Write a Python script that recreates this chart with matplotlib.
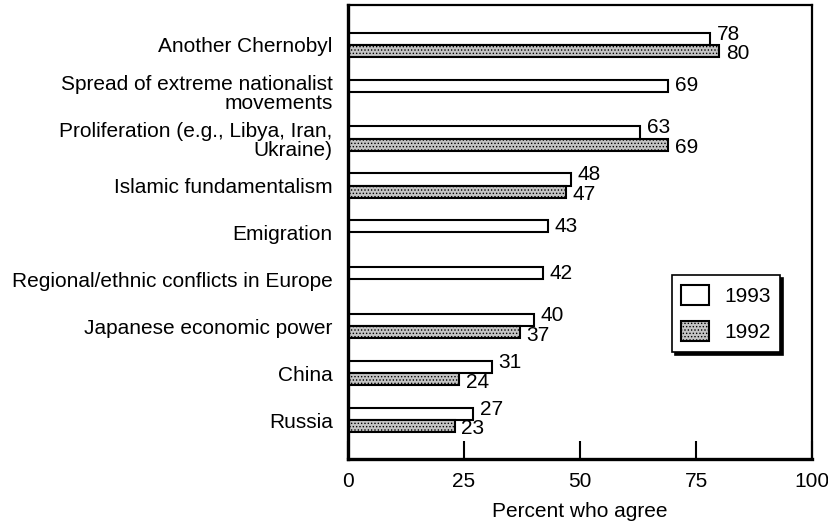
import numpy as np
import matplotlib
matplotlib.use('Agg')
import matplotlib.pyplot as plt

plt.rcParams['font.family'] = ['Liberation Sans', 'DejaVu Sans']
plt.rcParams['hatch.linewidth'] = 0.6

# Data
categories = [
    'Another Chernobyl',
    'Spread of extreme nationalist\nmovements',
    'Proliferation (e.g., Libya, Iran,\nUkraine)',
    'Islamic fundamentalism',
    'Emigration',
    'Regional/ethnic conflicts in Europe',
    'Japanese economic power',
    'China',
    'Russia',
]
values_1993 = [78, 69, 63, 48, 43, 42, 40, 31, 27]
values_1992 = [80, None, 69, 47, None, None, 37, 24, 23]
series_names = ['1993', '1992']

fs = 15
fig = plt.figure(figsize=(8.29, 5.25), dpi=100)
ax = fig.add_axes([0.4198, 0.1257, 0.5597, 0.8648])

y = np.arange(len(categories))
h = 0.26

b93 = ax.barh(y - h / 2, values_1993, height=h, color='white',
              edgecolor='black', linewidth=1.5, label=series_names[0])

y92 = [yy + h / 2 for yy, v in zip(y, values_1992) if v is not None]
v92 = [v for v in values_1992 if v is not None]
b92 = ax.barh(y92, v92, height=h, color='#c4c4c4', edgecolor='black',
              linewidth=1.5, hatch='.....', label=series_names[1])

# value labels
for yy, v, v2 in zip(y, values_1993, values_1992):
    dy = -0.1 if v2 is not None else 0
    ax.text(v + 1.4, yy - h / 2 + dy, str(v), va='center', ha='left', fontsize=fs)
for yy, v in zip(y92, v92):
    ax.text(v + 1.4, yy + 0.06, str(v), va='center', ha='left', fontsize=fs)

ax.set_xlim(0, 100)
ax.set_ylim(len(categories) - 1 + 0.83, -0.85)
ax.set_yticks(y)
ax.set_yticklabels(categories, fontsize=fs, linespacing=1.0)
ax.tick_params(axis='y', length=0, pad=11)
ax.set_xticks([0, 25, 50, 75, 100])
ax.set_xticklabels(['0', '25', '50', '75', '100'], fontsize=fs)
ax.tick_params(axis='x', direction='in', length=13, width=1.5, pad=9)
ax.set_xlabel('Percent who agree', fontsize=fs, labelpad=8)

for side in ['left', 'bottom']:
    ax.spines[side].set_linewidth(2.4)
for side in ['top', 'right']:
    ax.spines[side].set_linewidth(1.6)

leg = ax.legend(loc='upper left', bbox_to_anchor=(0.698, 0.405), fontsize=fs,
                borderaxespad=0, frameon=True, fancybox=False, edgecolor='black',
                handlelength=1.35, handleheight=1.1, handletextpad=0.7,
                labelspacing=0.75, borderpad=0.45,
                shadow={'color': 'black', 'alpha': 1, 'ox': 2.2, 'oy': -2.2})
leg.get_frame().set_linewidth(1.2)
leg.get_frame().set_alpha(1)

fig.savefig('out.png', dpi=100)
